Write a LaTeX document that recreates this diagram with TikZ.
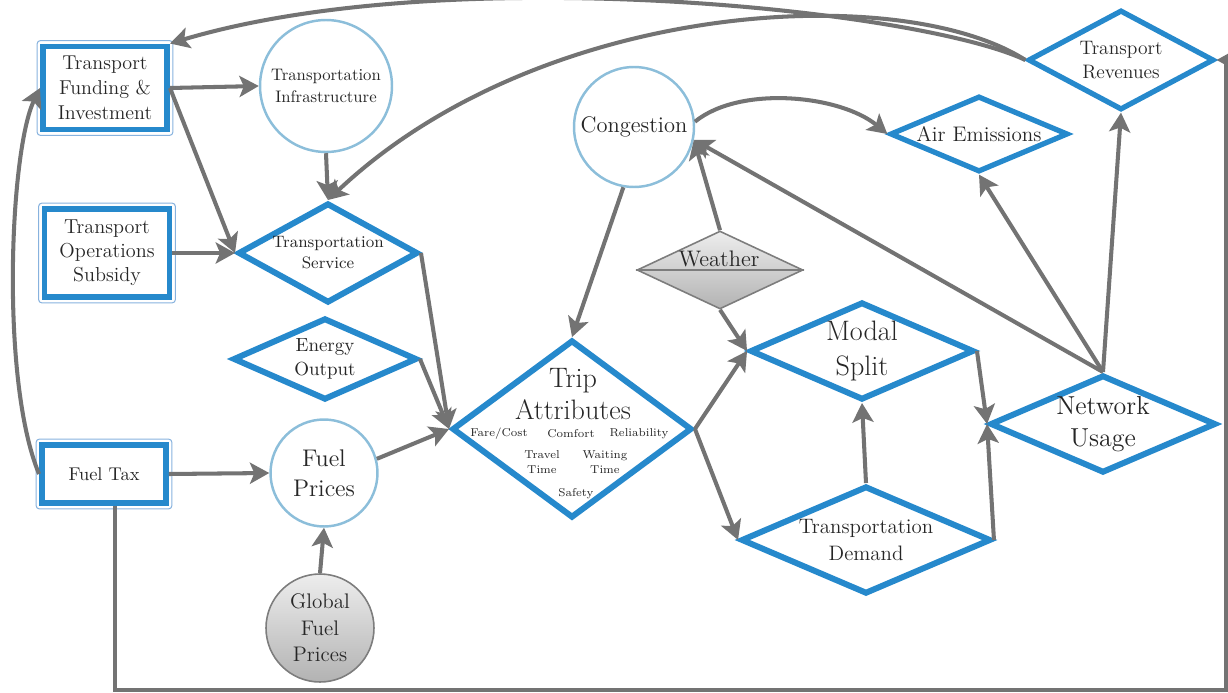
\documentclass[tikz,border=0pt]{standalone}
\usepackage{fontspec}
\usepackage{tikz}
\usetikzlibrary{shapes.geometric, arrows.meta, fit}
\definecolor{nodeblue}{RGB}{38,137,204}
\definecolor{rimblue}{RGB}{140,190,218}
\definecolor{thinblue}{RGB}{135,178,222}
\definecolor{arrgray}{RGB}{115,115,115}
\definecolor{rimgray}{RGB}{125,125,125}
\newcommand{\fsz}[2]{\fontsize{#1}{#2}\selectfont}
\tikzset{
    every node/.style={align=center, text=black!85},
    box/.style={rectangle, draw=nodeblue, line width=3.4pt, fill=white, inner sep=0pt},
    boxrim/.style={rectangle, draw=thinblue, line width=0.6pt, rounded corners=2pt, inner sep=1.7pt},
    dia/.style={diamond, draw=nodeblue, line width=3.4pt, fill=white, inner sep=-10pt},
    ring/.style={circle, draw=rimblue, line width=1.4pt, fill=white, inner sep=0pt},
    greyed/.style={draw=rimgray, line width=0.9pt, top color=black!7, bottom color=black!30},
    link/.style={line width=2.3pt, draw=arrgray, -{Stealth[length=11pt, width=12pt, inset=2.5pt]}}
}
\tikzset{
    every edge/.append style={line width=2.3pt, draw=arrgray,
    	-{Stealth[length=11pt, width=12pt, inset=2.5pt]}}
}

\begin{document}
\begin{tikzpicture}[x=0.02cm, y=-0.02cm]
	\useasboundingbox (0,0) rectangle (1228,693);
	% policy boxes
	\node [box, minimum width=2.48cm, minimum height=1.66cm, font=\fsz{11.4}{14.2}] (tfi)
		at (105,88) {Transport\\Funding \&\\Investment};
	\node [box, minimum width=2.5cm, minimum height=1.76cm, font=\fsz{11.5}{13.7}] (tos)
		at (107,253) {Transport\\Operations\\Subsidy};
	\node [box, minimum width=2.48cm, minimum height=1.16cm, font=\fsz{10.5}{12}] (ftax)
		at (104,474) {Fuel Tax};
	\node [boxrim, fit=(tfi)] (tfirim) {};
	\node [boxrim, fit=(tos)] (tosrim) {};
	\node [boxrim, fit=(ftax)] (ftaxrim) {};
	% circles
	\node [ring, minimum size=2.64cm, font=\fsz{9.5}{12.3}] (tinf) at (326,86)
		{Transportation\\Infrastructure};
	\node [ring, minimum size=2.14cm, font=\fsz{13.7}{17}] (fp) at (324,473) {Fuel\\Prices};
	\node [ring, greyed, minimum size=2.16cm, font=\fsz{12}{15}] (gfp) at (320,628)
		{Global\\Fuel\\Prices};
	\node [ring, minimum size=2.4cm, font=\fsz{12.8}{15}] (cong) at (634,127) {Congestion};
	% diamonds
	\node [dia, minimum width=3.6cm, minimum height=2cm, font=\fsz{9.4}{12}] (tserv)
		at (328,253) {Transportation\\Service};
	\node [dia, minimum width=3.68cm, minimum height=1.64cm, font=\fsz{10.8}{13.5}] (eout)
		at (325,359) {Energy\\Output};
	\node [dia, minimum width=4.8cm, minimum height=3.56cm] (trip) at (572,429) {};
	\node [dia, greyed, minimum width=3.32cm, minimum height=1.56cm] (wx) at (720,270) {};
	\node [dia, line width=3pt, minimum width=3.56cm, minimum height=1.52cm, font=\fsz{12}{14}]
		(air) at (979,134) {Air Emissions};
	\node [dia, line width=3pt, minimum width=3.72cm, minimum height=2cm, font=\fsz{11.1}{13.2}]
		(rev) at (1121,60) {Transport\\Revenues};
	\node [dia, minimum width=4.48cm, minimum height=1.96cm, font=\fsz{16}{19.8}] (modal)
		at (862,351) {Modal\\Split};
	\node [dia, minimum width=4.52cm, minimum height=1.96cm, font=\fsz{14.8}{18}] (net)
		at (1103,424) {Network\\Usage};
	\node [dia, minimum width=5cm, minimum height=2.16cm, font=\fsz{11.9}{15}] (dem)
		at (866,540) {Transportation\\Demand};
	% texts inside trip attributes and weather
	\draw [rimgray, line width=0.9pt] (wx.west) -- (wx.east);
	\node [font=\fsz{12.8}{15}] (wxname) at (719,259) {Weather};
	\node [font=\fsz{16}{18}] (tripname) at (573,394) {Trip\\Attributes};
	\node [font=\fsz{6.5}{8.5}] (fare) at (499,434) {Fare/Cost};
	\node [font=\fsz{6.5}{8.5}] (comfort) at (571,434) {Comfort};
	\node [font=\fsz{6.5}{8.5}] (reliab) at (639,434) {Reliability};
	\node [font=\fsz{6.5}{8.5}] (travel) at (542,462) {Travel\\Time};
	\node [font=\fsz{6.5}{8.5}] (waiting) at (605,462) {Waiting\\Time};
	\node [font=\fsz{6.5}{8.5}] (safety) at (576,494) {Safety};
	% straight links
	\draw (tfi.east) edge (tinf.west); \draw (tfi.east) edge (tserv.west);
	\draw (tos.east) edge (tserv.west); \draw (tinf.south) edge (tserv.north);
	\draw (ftax.east) edge (fp.west); \draw (gfp.north) edge (fp.south);
	\draw (fp.15) edge (trip.west); \draw (eout.east) edge (trip.west);
	\draw (tserv.east) edge (trip.west); \draw (cong.-100) edge (trip.north);
	\draw (wx.north) edge (cong.-12); \draw (wx.south) edge (modal.west);
	\draw (trip.east) edge (modal.west); \draw (trip.east) edge (dem.west);
	\draw (dem.north) edge (modal.south); \draw (dem.east) edge (net.west);
	\draw (modal.east) edge (net.west); \draw (net.north) edge (cong.-12);
	\draw (net.north) edge (air.south); \draw (net.north) edge (rev.south);
	% curved links
	\draw [link] (cong.5) .. controls (740,85) and (840,95) .. (air.west);
	\draw [link] (rev.west) .. controls (920,10) and (450,-40) .. (tfi.north east);
	\draw [link] (rev.west) .. controls (900,-20) and (540,0) .. (tserv.north);
	\draw [link] (ftax.west) .. controls (0,380) and (10,150) .. (tfi.west);
	% fuel tax loop round the bottom
	\coordinate (lowleft) at (115,690);
	\coordinate (lowright) at (1226,690);
	\draw [link] (lowleft |- ftax.south) -- (lowleft) -- (lowright)
		-- (lowright |- rev.east) -- (rev.east);
\end{tikzpicture}
\end{document}
